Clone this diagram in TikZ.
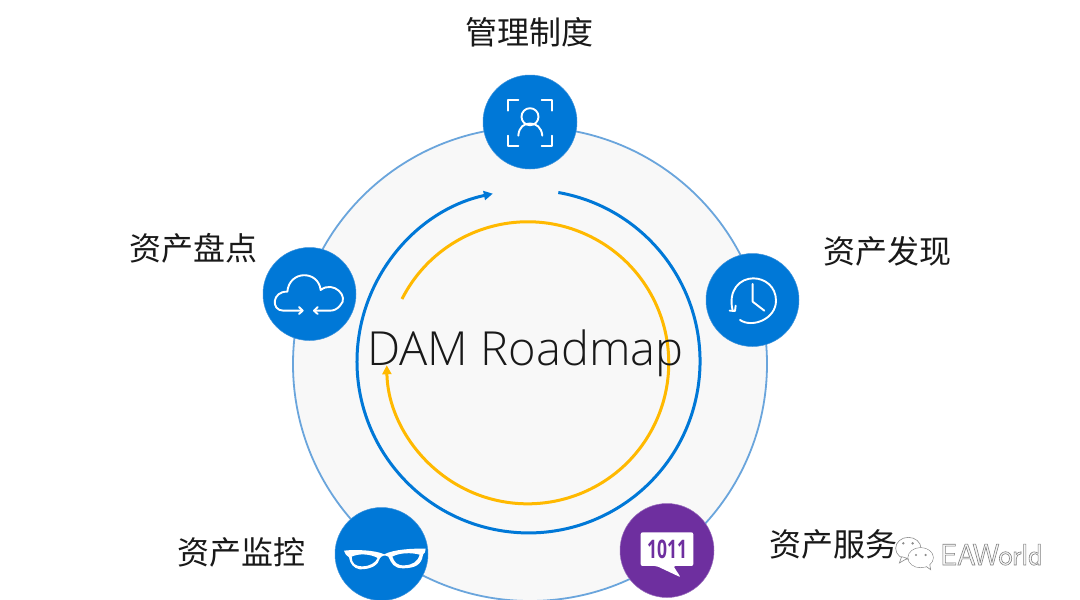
\documentclass[tikz,border=0pt]{standalone}
\usepackage{fontspec}
\usetikzlibrary{arrows.meta}
\setmainfont{Open Sans}
\newfontfamily\cjk{Noto Sans CJK SC}
\newfontfamily\damfont{Open Sans Light}
\newfontfamily\numfont{Open Sans}[BoldFont={Open Sans Bold}]
\definecolor{msblue}{HTML}{0078D7}
\definecolor{mspurple}{HTML}{6E2F9F}
\definecolor{msyellow}{HTML}{FFB900}
\definecolor{ringblue}{HTML}{6AA5DC}
\definecolor{disc}{HTML}{F8F8F8}
\definecolor{wmgray}{HTML}{8C8C8C}
\tikzset{
  badge/.style={circle,inner sep=0pt,minimum size=#1,fill=msblue,draw=ringblue!60!msblue,line width=.5pt},
  caption/.style={font=\cjk\fontsize{32}{36}\selectfont,text=black!90,inner sep=0pt,anchor=center},
  icon/.style={draw=white,line width=1.9pt,line cap=round,line join=round},
}
\begin{document}
\begin{tikzpicture}[x=1pt,y=1pt,yscale=-1]
\useasboundingbox (0,0) rectangle (1080,600);
\fill[white] (0,0) rectangle (1080,600);
\clip (0,0) rectangle (1080,600);
% disc
\coordinate (cdisc) at (530,364);
\filldraw[fill=disc,draw=ringblue,line width=1.8pt] (cdisc) circle[radius=237];
% blue arc
\draw[msblue,line width=3pt,-{Triangle[length=9pt,width=9pt]}] (558.3,192.5) arc[start angle=-80,end angle=258,radius=171.5];
% yellow arc
\draw[msyellow,line width=3pt,-{Triangle[length=9pt,width=9pt]}] (402,299) arc[start angle=-153.1,end angle=179,radius=141];
% badges
\node[badge=94pt] (top) at (530,122) {};
\node[badge=93pt] (left) at (309.5,294) {};
\node[badge=93pt] (right) at (752.5,300) {};
\node[badge=93pt] (glass) at (381.5,554) {};
\node[badge=94pt,fill=mspurple,draw=mspurple!70] (serv) at (667,550.5) {};
% person icon
\begin{scope}
\draw[icon] (507.7,110.7) -- (507.7,100) -- (518.3,100);
\draw[icon] (541.7,100) -- (552.3,100) -- (552.3,110.7);
\draw[icon] (507.7,135.7) -- (507.7,146) -- (518.3,146);
\draw[icon] (541.7,146) -- (552.3,146) -- (552.3,135.7);
\draw[icon] (530,116.7) circle[radius=8.5];
\draw[icon] (518.3,135.7) .. controls (519,127) and (524,123.5) .. (530,123.5) .. controls (536,123.5) and (541.5,127) .. (542.3,135.7);
\end{scope}
% cloud icon
\begin{scope}[shift={(250,240)},x=.3333pt,y=.3333pt]
\draw[icon] (157,212) -- (100,212) .. controls (62,212) and (66,153) .. (112,155)
  .. controls (118,90) and (205,90) .. (212,150)
  .. controls (250,120) and (300,170) .. (270,197) .. controls (262,207) and (252,212) .. (240,212) -- (192,212);
\draw[icon] (147,201) -- (158,212) -- (147,222);
\draw[icon] (203,201) -- (192,212) -- (203,222);
\end{scope}
% clock icon
\begin{scope}[shift={(695,245)},x=.3333pt,y=.3333pt]
\draw[icon] (135,225) .. controls (172,250) and (243,222) .. (243,167) .. controls (243,125) and (210,100) .. (175,100) .. controls (135,100) and (98,135) .. (113,197);
\draw[icon] (173,117) -- (173,170) -- (208,197);
\draw[icon] (104,197) -- (120,198) -- (122,182);
\end{scope}
% glasses icon
\begin{scope}[shift={(325,500)},x=.3333pt,y=.3333pt]
\fill[white,even odd rule] (57,152) .. controls (90,148) and (150,150) .. (178,163) .. controls (205,148) and (265,145) .. (302,146)
  .. controls (303,155) and (298,160) .. (294,164) .. controls (290,195) and (270,204) .. (235,205) .. controls (205,205) and (200,190) .. (190,170) .. controls (180,164) and (172,166) .. (165,174)
  .. controls (160,195) and (140,208) .. (105,208) .. controls (85,205) and (75,190) .. (72,172) .. controls (65,168) and (58,160) .. (57,152) -- cycle
  (80,170) .. controls (80,190) and (90,199) .. (112,199) .. controls (135,199) and (152,188) .. (158,174) .. controls (135,161) and (100,160) .. (80,170) -- cycle
  (202,170) .. controls (208,186) and (215,197) .. (238,196) .. controls (262,195) and (278,186) .. (284,164) .. controls (260,157) and (222,158) .. (202,170) -- cycle;
\end{scope}
% speech bubble
\begin{scope}[shift={(610,495)},x=.3333pt,y=.3333pt]
\fill[white,rounded corners=2pt] (92,112) -- (250,112) -- (250,213) -- (190,213) -- (212,247) -- (140,213) -- (92,213) -- cycle;
\end{scope}
\node[inner sep=0pt,text=mspurple] (bits) at (667,549.5) {\resizebox{40pt}{18.5pt}{\numfont\bfseries 1011}};
% captions
\node[caption] (t1) at (529,32) {管理制度};
\node[caption] (t2) at (887,251) {资产发现};
\node[caption] (t3) at (193,248) {资产盘点};
\node[caption] (t4) at (241,552) {资产监控};
\node[caption] (t5) at (833,544) {资产服务};
% title
\node[inner sep=0pt,anchor=base,font=\damfont\fontsize{47}{50}\selectfont,text=black!90] (dam) at (525.5,365) {DAM Roadmap};
% watermark
\begin{scope}[shift={(760,515)},x=.3333pt,y=.3333pt]
\filldraw[fill=white,draw=wmgray,line width=.6pt] (445,100) ellipse[x radius=38,y radius=33];
\filldraw[fill=white,draw=wmgray,line width=.6pt] (425,125) -- (418,144) -- (442,130) -- cycle;
\filldraw[fill=white,draw=wmgray,line width=.7pt] (482,128) ellipse[x radius=38,y radius=30];
\filldraw[fill=white,draw=wmgray,line width=.6pt] (495,152) -- (512,164) -- (509,146) -- cycle;
\fill[white] (482,128) ellipse[x radius=37,y radius=29];
\fill[wmgray] (430,85) circle[radius=4] (458,85) circle[radius=4] (468,120) circle[radius=3.5] (497,120) circle[radius=3.5];
\end{scope}
\node[inner sep=0pt,anchor=base west,font=\sffamily\fontsize{30}{30}\selectfont] (wm) at (940,565) {\special{pdf:code q 2 Tr 0.6 w 0.5 G 0.97 g}EAWorld\special{pdf:code Q}};
\end{tikzpicture}
\end{document}
